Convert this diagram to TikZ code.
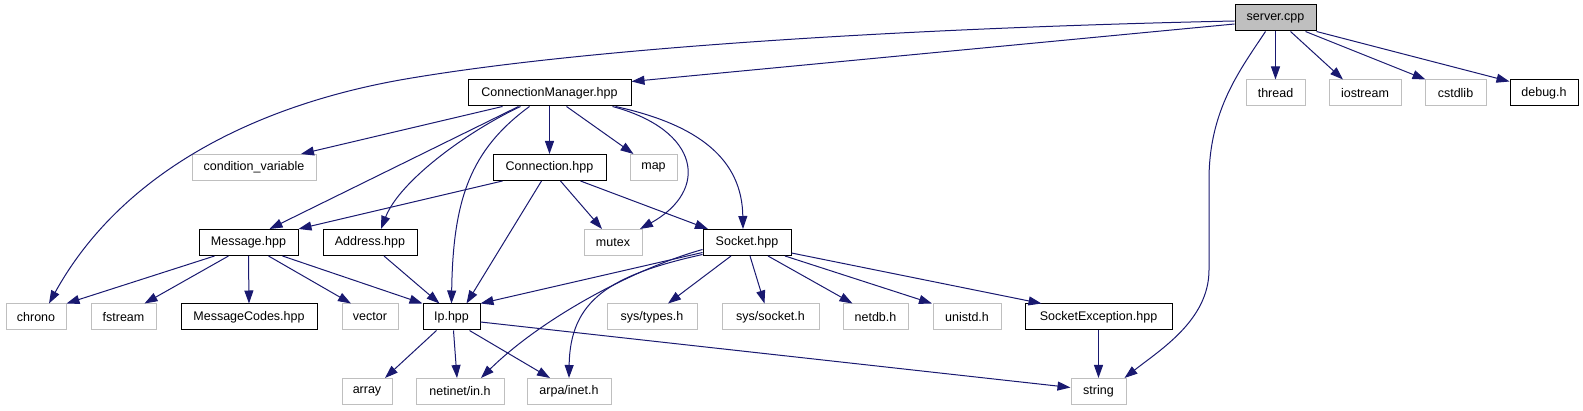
\documentclass[tikz,border=0pt]{standalone}
\usepackage{fontspec}
\setmainfont{Liberation Sans}
\definecolor{depblue}{RGB}{25, 25, 112}
\definecolor{extgray}{RGB}{191, 191, 191}
\usetikzlibrary{
    arrows.meta
}

\begin{document}
\begin{tikzpicture}[x=1pt, y=-1pt,
    every node/.style={font=\fontsize{12.5}{14}\selectfont, inner sep=0pt, minimum height=26pt},
    hdrbox/.style={draw=black, fill=white, line width=1pt},
    extbox/.style={draw=extgray, fill=white, line width=1pt},
    rootbox/.style={draw=black, fill=extgray, line width=1pt},
    dep/.style={draw=depblue, line width=1pt, -{Triangle[length=13pt, width=9pt]}}]
    \useasboundingbox (0,0) rectangle (1583,411);

    % Root file
    \node[rootbox, minimum width=81pt] (server) at (1275.5,18) {server.cpp};

    % First level
    \node[hdrbox, minimum width=163pt] (connmgr) at (549.5,93) {ConnectionManager.hpp};
    \node[extbox, minimum width=59pt] (thread) at (1275.5,93) {thread};
    \node[extbox, minimum width=72pt] (iostream) at (1365,93) {iostream};
    \node[extbox, minimum width=61pt] (cstdlib) at (1455.5,93) {cstdlib};
    \node[hdrbox, minimum width=68pt] (debug) at (1544,93) {debug.h};

    % Second level
    \node[extbox, minimum width=124pt] (condvar) at (254,167.5) {condition\_variable};
    \node[hdrbox, minimum width=113pt] (connection) at (549.5,167.5) {Connection.hpp};
    \node[extbox, minimum width=47pt] (map) at (653.5,167.5) {map};

    % Third level
    \node[hdrbox, minimum width=99pt] (message) at (248.5,242.5) {Message.hpp};
    \node[hdrbox, minimum width=94pt] (address) at (370,242.5) {Address.hpp};
    \node[extbox, minimum width=58pt] (mutex) at (613,242.5) {mutex};
    \node[hdrbox, minimum width=88pt] (socket) at (747,242.5) {Socket.hpp};

    % Fourth level
    \node[extbox, minimum width=60pt] (chrono) at (36,317) {chrono};
    \node[extbox, minimum width=65pt] (fstream) at (123.5,317) {fstream};
    \node[hdrbox, minimum width=136pt] (msgcodes) at (249,317) {MessageCodes.hpp};
    \node[extbox, minimum width=56pt] (vector) at (370,317) {vector};
    \node[hdrbox, minimum width=57pt] (ip) at (451.5,317) {Ip.hpp};
    \node[extbox, minimum width=90pt] (systypes) at (652,317) {sys/types.h};
    \node[extbox, minimum width=97pt] (syssocket) at (770.5,317) {sys/socket.h};
    \node[extbox, minimum width=65pt] (netdb) at (875.5,317) {netdb.h};
    \node[extbox, minimum width=68pt] (unistd) at (967,317) {unistd.h};
    \node[hdrbox, minimum width=147pt] (sockexc) at (1098.5,317) {SocketException.hpp};

    % Fifth level
    \node[extbox, minimum width=50pt] (array) at (367,391.5) {array};
    \node[extbox, minimum width=88pt] (netinet) at (460,391.5) {netinet/in.h};
    \node[extbox, minimum width=84pt] (arpa) at (569,391.5) {arpa/inet.h};
    \node[extbox, minimum width=55pt] (string) at (1098.5,391.5) {string};

    % server.cpp includes
    \draw[dep] ([yshift=-3pt]server.west) .. controls (950,27) and (600,45) .. (400,80)
        .. controls (250,107) and (120,175) .. ([xshift=13pt]chrono.north);
    \draw[dep] ([yshift=-6pt]server.west) -- ([yshift=-2pt]connmgr.north east);
    \draw[dep] (server.south) -- (thread.north);
    \draw[dep] ([xshift=15pt]server.south) -- ([xshift=-22pt]iostream.north);
    \draw[dep] ([xshift=30pt]server.south) -- ([xshift=-30pt]cstdlib.north);
    \draw[dep] (server.south east) -- ([yshift=-2pt]debug.north west);
    \draw[dep] ([xshift=-10pt]server.south) .. controls (1240,70) and (1209,110) .. (1209,180)
        -- (1209,270) .. controls (1209,320) and (1160,350) .. ([xshift=-2pt]string.north east);

    % ConnectionManager.hpp includes
    \draw[dep] ([xshift=-47pt]connmgr.south) -- ([xshift=47pt]condvar.north);
    \draw[dep] ([xshift=-31pt]connmgr.south) -- ([xshift=21pt]message.north);
    \draw[dep] ([xshift=-29pt]connmgr.south) .. controls (470,130) and (400,180) .. ([xshift=11pt]address.north);
    \draw[dep] ([xshift=-20pt]connmgr.south) .. controls (470,150) and (453,200) .. (ip.north);
    \draw[dep] (connmgr.south) -- (connection.north);
    \draw[dep] ([xshift=17pt]connmgr.south) -- ([xshift=-20pt]map.north);
    \draw[dep] ([xshift=63pt]connmgr.south) .. controls (700,130) and (710,190) .. ([xshift=27pt]mutex.north);
    \draw[dep] ([xshift=66pt]connmgr.south) .. controls (700,125) and (742,160) .. ([xshift=-4pt]socket.north);

    % Connection.hpp includes
    \draw[dep] ([xshift=-47pt]connection.south) -- (message.north east);
    \draw[dep] ([xshift=-8pt]connection.south) -- ([xshift=15pt]ip.north);
    \draw[dep] ([xshift=11pt]connection.south) -- ([xshift=-11pt]mutex.north);
    \draw[dep] ([xshift=31pt]connection.south) -- ([xshift=-39pt]socket.north);

    % Message.hpp and Address.hpp includes
    \draw[dep] ([xshift=-34pt]message.south) -- (chrono.north east);
    \draw[dep] ([xshift=-20pt]message.south) -- ([xshift=21pt]fstream.north);
    \draw[dep] (message.south) -- (msgcodes.north);
    \draw[dep] ([xshift=20pt]message.south) -- ([xshift=-19pt]vector.north);
    \draw[dep] ([xshift=34pt]message.south) -- (ip.north west);
    \draw[dep] ([xshift=14pt]address.south) -- ([xshift=-12pt]ip.north);

    % Socket.hpp includes
    \draw[dep] ([yshift=-10pt]socket.west) -- (ip.north east);
    \draw[dep] ([yshift=-7pt]socket.west) .. controls (630,270) and (540,320) .. ([xshift=21pt]netinet.north);
    \draw[dep] ([yshift=-12pt]socket.west) .. controls (610,275) and (570,300) .. (arpa.north);
    \draw[dep] ([xshift=-16pt]socket.south) -- ([xshift=16pt]systypes.north);
    \draw[dep] ([xshift=3pt]socket.south) -- ([xshift=-6pt]syssocket.north);
    \draw[dep] ([xshift=21pt]socket.south) -- ([xshift=-23pt]netdb.north);
    \draw[dep] ([xshift=38pt]socket.south) -- ([xshift=-35pt]unistd.north);
    \draw[dep] ([yshift=3pt]socket.south east) -- ([xshift=-57pt]sockexc.north);

    % Ip.hpp and SocketException.hpp includes
    \draw[dep] ([xshift=-15pt]ip.south) -- ([xshift=18pt]array.north);
    \draw[dep] ([xshift=2pt]ip.south) -- ([xshift=-3pt]netinet.north);
    \draw[dep] ([xshift=18pt]ip.south) -- ([xshift=-19pt]arpa.north);
    \draw[dep] ([yshift=-5pt]ip.east) -- ([yshift=4pt]string.west);
    \draw[dep] (sockexc.south) -- (string.north);
\end{tikzpicture}
\end{document}
